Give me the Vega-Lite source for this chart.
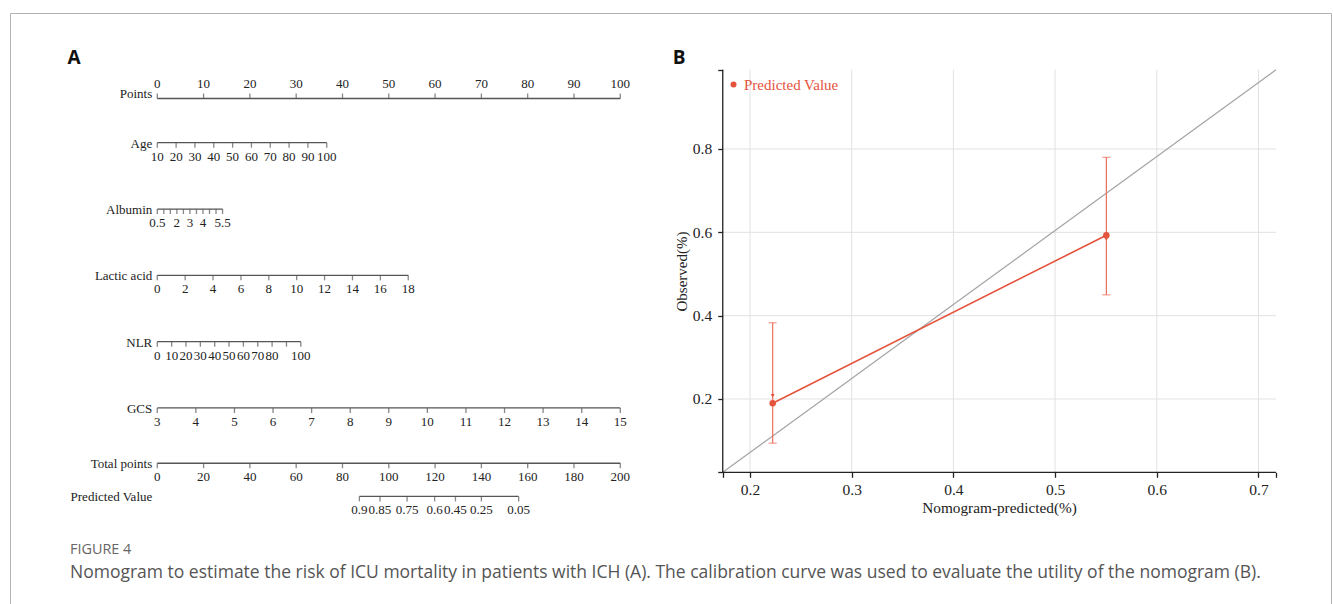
{
  "$schema": "https://vega.github.io/schema/vega-lite/v6.json",
  "width": 1333,
  "height": 604,
  "autosize": {"type": "fit", "contains": "padding"},
  "padding": {"left": 10, "top": 13, "right": 2, "bottom": 0},
  "background": "white",
  "config": {"view": {"stroke": "#b3b3b3", "strokeWidth": 1}},
  "title": {
    "text": "FIGURE 4",
    "subtitle": "Nomogram to estimate the risk of ICU mortality in patients with ICH (A). The calibration curve was used to evaluate the utility of the nomogram (B).",
    "orient": "bottom",
    "anchor": "start",
    "frame": "group",
    "offset": -61.5,
    "dx": 60,
    "font": "Open Sans",
    "fontSize": 14.4,
    "fontWeight": "normal",
    "color": "#666666",
    "subtitleFont": "Open Sans",
    "subtitleFontSize": 17.5,
    "subtitleColor": "#555555",
    "subtitlePadding": 7
  },
  "datasets": {
    "ticks": [
      {"row": "Points", "pos": 0, "label": "0"},
      {"row": "Points", "pos": 10, "label": "10"},
      {"row": "Points", "pos": 20, "label": "20"},
      {"row": "Points", "pos": 30, "label": "30"},
      {"row": "Points", "pos": 40, "label": "40"},
      {"row": "Points", "pos": 50, "label": "50"},
      {"row": "Points", "pos": 60, "label": "60"},
      {"row": "Points", "pos": 70, "label": "70"},
      {"row": "Points", "pos": 80, "label": "80"},
      {"row": "Points", "pos": 90, "label": "90"},
      {"row": "Points", "pos": 100, "label": "100"},
      {"row": "Age", "pos": 0, "label": "10"},
      {"row": "Age", "pos": 4.07, "label": "20"},
      {"row": "Age", "pos": 8.13, "label": "30"},
      {"row": "Age", "pos": 12.2, "label": "40"},
      {"row": "Age", "pos": 16.27, "label": "50"},
      {"row": "Age", "pos": 20.33, "label": "60"},
      {"row": "Age", "pos": 24.4, "label": "70"},
      {"row": "Age", "pos": 28.47, "label": "80"},
      {"row": "Age", "pos": 32.53, "label": "90"},
      {"row": "Age", "pos": 36.6, "label": "100"},
      {"row": "Albumin", "pos": 0, "label": "0.5"},
      {"row": "Albumin", "pos": 1.41, "label": ""},
      {"row": "Albumin", "pos": 2.82, "label": ""},
      {"row": "Albumin", "pos": 4.23, "label": "2"},
      {"row": "Albumin", "pos": 5.64, "label": ""},
      {"row": "Albumin", "pos": 7.05, "label": "3"},
      {"row": "Albumin", "pos": 8.46, "label": ""},
      {"row": "Albumin", "pos": 9.87, "label": "4"},
      {"row": "Albumin", "pos": 11.28, "label": ""},
      {"row": "Albumin", "pos": 12.69, "label": ""},
      {"row": "Albumin", "pos": 14.1, "label": "5.5"},
      {"row": "Lactic acid", "pos": 0, "label": "0"},
      {"row": "Lactic acid", "pos": 6.02, "label": "2"},
      {"row": "Lactic acid", "pos": 12.04, "label": "4"},
      {"row": "Lactic acid", "pos": 18.07, "label": "6"},
      {"row": "Lactic acid", "pos": 24.09, "label": "8"},
      {"row": "Lactic acid", "pos": 30.11, "label": "10"},
      {"row": "Lactic acid", "pos": 36.13, "label": "12"},
      {"row": "Lactic acid", "pos": 42.16, "label": "14"},
      {"row": "Lactic acid", "pos": 48.18, "label": "16"},
      {"row": "Lactic acid", "pos": 54.2, "label": "18"},
      {"row": "NLR", "pos": 0, "label": "0"},
      {"row": "NLR", "pos": 3.1, "label": "10"},
      {"row": "NLR", "pos": 6.2, "label": "20"},
      {"row": "NLR", "pos": 9.3, "label": "30"},
      {"row": "NLR", "pos": 12.4, "label": "40"},
      {"row": "NLR", "pos": 15.5, "label": "50"},
      {"row": "NLR", "pos": 18.6, "label": "60"},
      {"row": "NLR", "pos": 21.7, "label": "70"},
      {"row": "NLR", "pos": 24.8, "label": "80"},
      {"row": "NLR", "pos": 27.9, "label": ""},
      {"row": "NLR", "pos": 31.0, "label": "100"},
      {"row": "GCS", "pos": 0, "label": "3"},
      {"row": "GCS", "pos": 8.33, "label": "4"},
      {"row": "GCS", "pos": 16.67, "label": "5"},
      {"row": "GCS", "pos": 25, "label": "6"},
      {"row": "GCS", "pos": 33.33, "label": "7"},
      {"row": "GCS", "pos": 41.67, "label": "8"},
      {"row": "GCS", "pos": 50, "label": "9"},
      {"row": "GCS", "pos": 58.33, "label": "10"},
      {"row": "GCS", "pos": 66.67, "label": "11"},
      {"row": "GCS", "pos": 75, "label": "12"},
      {"row": "GCS", "pos": 83.33, "label": "13"},
      {"row": "GCS", "pos": 91.67, "label": "14"},
      {"row": "GCS", "pos": 100, "label": "15"},
      {"row": "Total points", "pos": 0, "label": "0"},
      {"row": "Total points", "pos": 10, "label": "20"},
      {"row": "Total points", "pos": 20, "label": "40"},
      {"row": "Total points", "pos": 30, "label": "60"},
      {"row": "Total points", "pos": 40, "label": "80"},
      {"row": "Total points", "pos": 50, "label": "100"},
      {"row": "Total points", "pos": 60, "label": "120"},
      {"row": "Total points", "pos": 70, "label": "140"},
      {"row": "Total points", "pos": 80, "label": "160"},
      {"row": "Total points", "pos": 90, "label": "180"},
      {"row": "Total points", "pos": 100, "label": "200"},
      {"row": "Predicted Value", "pos": 43.65, "label": "0.9"},
      {"row": "Predicted Value", "pos": 48.1, "label": "0.85"},
      {"row": "Predicted Value", "pos": 53.95, "label": "0.75"},
      {"row": "Predicted Value", "pos": 59.9, "label": "0.6"},
      {"row": "Predicted Value", "pos": 64.4, "label": "0.45"},
      {"row": "Predicted Value", "pos": 70.0, "label": "0.25"},
      {"row": "Predicted Value", "pos": 78.05, "label": "0.05"}
    ],
    "rows": [
      {"row": "Points"},
      {"row": "Age"},
      {"row": "Albumin"},
      {"row": "Lactic acid"},
      {"row": "NLR"},
      {"row": "GCS"},
      {"row": "Total points"},
      {"row": "Predicted Value"}
    ],
    "calib": [
      {"series": "Predicted Value", "pred": 0.2223, "obs": 0.19, "lo": 0.094, "hi": 0.383, "obs2": 0.208},
      {"series": "Predicted Value", "pred": 0.5504, "obs": 0.593, "lo": 0.45, "hi": 0.78, "obs2": 0.584}
    ],
    "gridx": [{"v": 0.2}, {"v": 0.3}, {"v": 0.4}, {"v": 0.5}, {"v": 0.6}, {"v": 0.7}],
    "gridy": [{"v": 0.2}, {"v": 0.4}, {"v": 0.6}, {"v": 0.8}]
  },
  "resolve": {"scale": {"x": "independent", "y": "independent"}},
  "layer": [
    {
      "layer": [
        {
          "data": {"name": "ticks"},
          "mark": {"type": "rule", "color": "#555555", "strokeWidth": 1.3},
          "encoding": {
            "x": {
              "aggregate": "min",
              "field": "pos",
              "type": "quantitative",
              "scale": {"type": "linear", "domain": [-31.81, 253.5], "nice": false, "zero": false},
              "axis": null
            },
            "x2": {"aggregate": "max", "field": "pos"},
            "y": {
              "field": "row",
              "type": "nominal",
              "scale": {
                "type": "point",
                "padding": 0.7357,
                "domain": ["_0", "_1", "_2", "A", "_4", "_5", "_6", "Points", "_8", "_9", "_10", "Age", "_12", "_13", "_14", "_15", "_16", "Albumin", "_18", "_19", "_20", "_21", "_22", "Lactic acid", "_24", "_25", "_26", "_27", "_28", "NLR", "_30", "_31", "_32", "_33", "_34", "GCS", "_36", "_37", "_38", "_39", "Total points", "_41", "_42", "Predicted Value", "_44", "_45", "_46", "_47", "_48", "_49", "_50", "_51", "_52"]
              },
              "axis": null
            }
          }
        },
        {
          "data": {"name": "ticks"},
          "transform": [{"filter": "datum.row === 'Points'"}],
          "mark": {"type": "tick", "orient": "vertical", "size": 5, "thickness": 1.3, "color": "#555555", "yOffset": -2.5},
          "encoding": {
            "x": {"field": "pos", "type": "quantitative", "axis": null},
            "y": {"field": "row", "type": "nominal", "axis": null}
          }
        },
        {
          "data": {"name": "ticks"},
          "transform": [{"filter": "datum.row !== 'Points'"}],
          "mark": {"type": "tick", "orient": "vertical", "size": 5, "thickness": 1.3, "color": "#555555", "yOffset": 2.5},
          "encoding": {
            "x": {"field": "pos", "type": "quantitative", "axis": null},
            "y": {"field": "row", "type": "nominal", "axis": null}
          }
        },
        {
          "data": {"name": "ticks"},
          "transform": [{"filter": "datum.row === 'Points'"}],
          "mark": {"type": "text", "font": "Liberation Serif", "fontSize": 13, "color": "#222222", "baseline": "middle", "dy": -14},
          "encoding": {
            "x": {"field": "pos", "type": "quantitative", "axis": null},
            "y": {"field": "row", "type": "nominal", "axis": null},
            "text": {"field": "label"}
          }
        },
        {
          "data": {"name": "ticks"},
          "transform": [{"filter": "datum.row !== 'Points' && datum.label !== ''"}],
          "mark": {"type": "text", "font": "Liberation Serif", "fontSize": 13, "color": "#222222", "baseline": "middle", "dy": 14},
          "encoding": {
            "x": {"field": "pos", "type": "quantitative", "axis": null},
            "y": {"field": "row", "type": "nominal", "axis": null},
            "text": {"field": "label"}
          }
        },
        {
          "data": {"name": "rows"},
          "transform": [{"filter": "datum.row === 'Points'"}],
          "mark": {"type": "text", "font": "Liberation Serif", "fontSize": 13, "color": "#222222", "align": "right", "baseline": "middle", "dx": -5, "dy": -4},
          "encoding": {
            "x": {"datum": 0, "type": "quantitative", "axis": null},
            "y": {"field": "row", "type": "nominal", "axis": null},
            "text": {"field": "row"}
          }
        },
        {
          "data": {"name": "rows"},
          "transform": [{"filter": "datum.row !== 'Points'"}],
          "mark": {"type": "text", "font": "Liberation Serif", "fontSize": 13, "color": "#222222", "align": "right", "baseline": "middle", "dx": -5, "dy": 1},
          "encoding": {
            "x": {"datum": 0, "type": "quantitative", "axis": null},
            "y": {"field": "row", "type": "nominal", "axis": null},
            "text": {"field": "row"}
          }
        },
        {
          "data": {"values": [{"panel": "A"}]},
          "mark": {"type": "text", "font": "Open Sans", "fontSize": 19, "fontWeight": "bold", "color": "#111111", "align": "center", "baseline": "middle", "dy": 4},
          "encoding": {
            "x": {"datum": -18, "type": "quantitative", "axis": null},
            "y": {"field": "panel", "type": "nominal", "axis": null},
            "text": {"field": "panel"}
          }
        }
      ]
    },
    {
      "data": {"name": "gridx"},
      "mark": {"type": "rule", "color": "#e2e2e2", "strokeWidth": 1},
      "encoding": {
        "x": {"field": "v", "type": "quantitative", "scale": {"domain": [-0.52763, 0.77129], "nice": false, "zero": false}, "axis": null},
        "y": {"datum": 0.0241, "type": "quantitative", "scale": {"domain": [-0.29196, 1.12632], "nice": false, "zero": false}, "axis": null},
        "y2": {"datum": 0.99}
      }
    },
    {
      "data": {"name": "gridy"},
      "mark": {"type": "rule", "color": "#e2e2e2", "strokeWidth": 1},
      "encoding": {
        "y": {"field": "v", "type": "quantitative", "scale": {"domain": [-0.29196, 1.12632], "nice": false, "zero": false}, "axis": null},
        "x": {"datum": 0.1732, "type": "quantitative", "scale": {"domain": [-0.52763, 0.77129], "nice": false, "zero": false}, "axis": null},
        "x2": {"datum": 0.7172}
      }
    },
    {
      "data": {"values": [{"ref": "ideal"}]},
      "mark": {"type": "rule", "color": "#a3a3a3", "strokeWidth": 1.2},
      "encoding": {
        "x": {"datum": 0.1732, "type": "quantitative", "scale": {"domain": [-0.52763, 0.77129], "nice": false, "zero": false}, "axis": null},
        "y": {"datum": 0.0241, "type": "quantitative", "scale": {"domain": [-0.29196, 1.12632], "nice": false, "zero": false}, "axis": null},
        "x2": {"datum": 0.7172},
        "y2": {"datum": 0.99}
      }
    },
    {
      "data": {"values": [{"ref": "x axis line"}]},
      "mark": {"type": "rule", "color": "#222222", "strokeWidth": 1.3},
      "encoding": {
        "x": {"datum": 0.1732, "type": "quantitative", "scale": {"domain": [-0.52763, 0.77129], "nice": false, "zero": false}, "axis": null},
        "x2": {"datum": 0.7172},
        "y": {"datum": 0.0241, "type": "quantitative", "scale": {"domain": [-0.29196, 1.12632], "nice": false, "zero": false}, "axis": null}
      }
    },
    {
      "data": {"values": [{"ref": "y axis line"}]},
      "mark": {"type": "rule", "color": "#222222", "strokeWidth": 1.3},
      "encoding": {
        "x": {"datum": 0.1732, "type": "quantitative", "scale": {"domain": [-0.52763, 0.77129], "nice": false, "zero": false}, "axis": null},
        "y": {"datum": 0.0241, "type": "quantitative", "scale": {"domain": [-0.29196, 1.12632], "nice": false, "zero": false}, "axis": null},
        "y2": {"datum": 0.99}
      }
    },
    {
      "data": {"name": "calib"},
      "mark": {"type": "rule", "color": "#ee6f5a", "strokeWidth": 1.2},
      "encoding": {
        "x": {"field": "pred", "type": "quantitative", "scale": {"domain": [-0.52763, 0.77129], "nice": false, "zero": false}, "axis": null},
        "y": {"field": "lo", "type": "quantitative", "scale": {"domain": [-0.29196, 1.12632], "nice": false, "zero": false}, "axis": null},
        "y2": {"field": "hi"}
      }
    },
    {
      "data": {"name": "calib"},
      "transform": [{"fold": ["lo", "hi"], "as": ["end", "bound"]}],
      "mark": {"type": "tick", "orient": "horizontal", "size": 8, "thickness": 1.2, "color": "#ee6f5a"},
      "encoding": {
        "x": {"field": "pred", "type": "quantitative", "scale": {"domain": [-0.52763, 0.77129], "nice": false, "zero": false}, "axis": null},
        "y": {"field": "bound", "type": "quantitative", "scale": {"domain": [-0.29196, 1.12632], "nice": false, "zero": false}, "axis": null}
      }
    },
    {
      "data": {"name": "calib"},
      "mark": {"type": "line", "color": "#e5533c", "strokeWidth": 1.6},
      "encoding": {
        "x": {"field": "pred", "type": "quantitative", "scale": {"domain": [-0.52763, 0.77129], "nice": false, "zero": false}, "axis": null},
        "y": {"field": "obs", "type": "quantitative", "scale": {"domain": [-0.29196, 1.12632], "nice": false, "zero": false}, "axis": null}
      }
    },
    {
      "data": {"name": "calib"},
      "mark": {"type": "point", "shape": "triangle-down", "filled": true, "size": 16, "color": "#e5533c", "opacity": 1},
      "encoding": {
        "x": {"field": "pred", "type": "quantitative", "scale": {"domain": [-0.52763, 0.77129], "nice": false, "zero": false}, "axis": null},
        "y": {"field": "obs2", "type": "quantitative", "scale": {"domain": [-0.29196, 1.12632], "nice": false, "zero": false}, "axis": null}
      }
    },
    {
      "data": {"name": "calib"},
      "mark": {"type": "point", "filled": true, "size": 42, "opacity": 1},
      "encoding": {
        "x": {
          "field": "pred",
          "type": "quantitative",
          "scale": {"domain": [-0.52763, 0.77129], "nice": false, "zero": false},
          "axis": {
            "orient": "bottom",
            "offset": -131.7,
            "domain": false,
            "grid": false,
            "values": [0.1732, 0.2, 0.3, 0.4, 0.5, 0.6, 0.7, 0.7172],
            "labelExpr": "datum.value < 0.19 || datum.value > 0.71 ? '' : format(datum.value, '.1f')",
            "tickSize": 5,
            "tickWidth": 1.3,
            "tickColor": "#222222",
            "labelFont": "Liberation Serif",
            "labelFontSize": 15.5,
            "labelColor": "#222222",
            "labelPadding": 5,
            "labelFlush": false,
            "labelOverlap": false,
            "title": "Nomogram-predicted(%)",
            "titleFont": "Liberation Serif",
            "titleFontSize": 15.3,
            "titleFontWeight": "normal",
            "titleColor": "#222222",
            "titleX": 989,
            "titleY": 35,
            "titleAlign": "center",
            "titleBaseline": "middle"
          }
        },
        "y": {
          "field": "obs",
          "type": "quantitative",
          "scale": {"domain": [-0.29196, 1.12632], "nice": false, "zero": false},
          "axis": {
            "orient": "left",
            "offset": -712.74,
            "domain": false,
            "grid": false,
            "values": [0.0241, 0.2, 0.4, 0.6, 0.8, 0.99],
            "labelExpr": "datum.value < 0.1 || datum.value > 0.95 ? '' : format(datum.value, '.1f')",
            "tickSize": 5,
            "tickWidth": 1.3,
            "tickColor": "#222222",
            "labelFont": "Liberation Serif",
            "labelFontSize": 15.5,
            "labelColor": "#222222",
            "labelPadding": 6,
            "labelFlush": false,
            "labelOverlap": false,
            "title": "Observed(%)",
            "titleFont": "Liberation Serif",
            "titleFontSize": 15,
            "titleFontWeight": "normal",
            "titleColor": "#222222",
            "titleX": -41.7,
            "titleY": 258,
            "titleAngle": -90,
            "titleAlign": "center",
            "titleBaseline": "middle"
          }
        },
        "color": {
          "field": "series",
          "type": "nominal",
          "scale": {"range": ["#e5533c"]},
          "legend": {
            "title": null,
            "orient": "none",
            "legendX": 716,
            "legendY": 64,
            "symbolType": "circle",
            "symbolSize": 36,
            "labelFont": "Liberation Serif",
            "labelFontSize": 15,
            "labelColor": "#e5533c",
            "labelOffset": 3,
            "padding": 0
          }
        }
      }
    },
    {
      "data": {"values": [{"panel": "B"}]},
      "mark": {"type": "text", "font": "Open Sans", "fontSize": 19, "fontWeight": "bold", "color": "#111111", "align": "center", "baseline": "middle"},
      "encoding": {
        "x": {"datum": 0.1302, "type": "quantitative", "scale": {"domain": [-0.52763, 0.77129], "nice": false, "zero": false}, "axis": null},
        "y": {"datum": 1.0183, "type": "quantitative", "scale": {"domain": [-0.29196, 1.12632], "nice": false, "zero": false}, "axis": null},
        "text": {"field": "panel"}
      }
    }
  ]
}
